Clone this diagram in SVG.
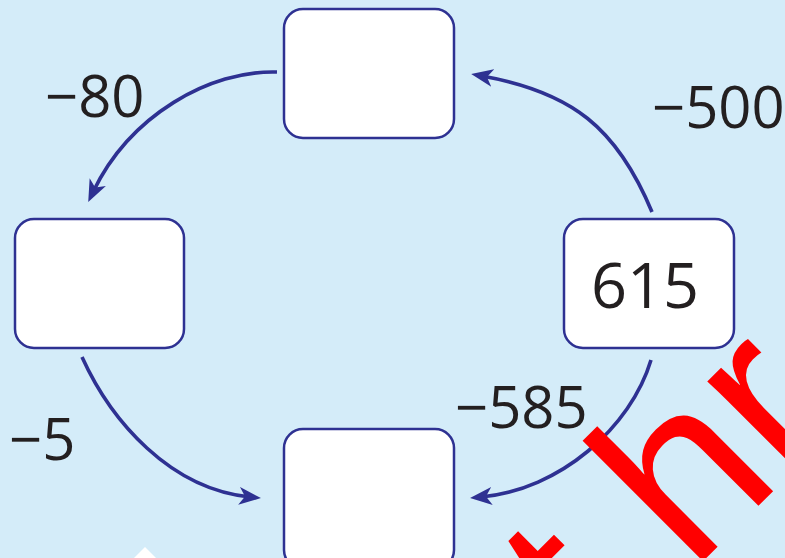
<svg xmlns="http://www.w3.org/2000/svg" width="785" height="558" viewBox="0 0 785 558">
  <defs>
    <style>
      .box { fill: #ffffff; stroke: #2e3192; stroke-width: 2.5; }
      .conn { fill: none; stroke: #2e3192; stroke-width: 3.6; marker-end: url(#arrow); }
      .lbl { font-family: "Open Sans", "DejaVu Sans", sans-serif; font-size: 58px; fill: #231f20; }
      .val { font-family: "Open Sans", "DejaVu Sans", sans-serif; font-size: 63px; fill: #231f20; text-anchor: middle; }
      .wm { font-family: "Liberation Sans", Arial, sans-serif; font-size: 235px; fill: #ff0000; }
    </style>
    <marker id="arrow" viewBox="0 0 22 18" refX="11" refY="9" markerWidth="22" markerHeight="18" markerUnits="userSpaceOnUse" orient="auto">
      <path d="M0,0 L22,9 L0,18 L6,9 Z" fill="#2e3192"/>
    </marker>
  </defs>
  <rect x="0" y="0" width="785" height="558" fill="#d4ecf9"/>

  <g id="connectors">
    <path class="conn" d="M277,72 C210,70 130,115 93,192"/>
    <path class="conn" d="M652,212 C617,128 572,92 482,76"/>
    <path class="conn" d="M82,357 C111,421 170,489 250,497"/>
    <path class="conn" d="M651,360 C631,427 560,490 481,497"/>
  </g>

  <g id="node-top">
    <rect class="box" x="284" y="9" width="170" height="129" rx="19"/>
  </g>
  <g id="node-left">
    <rect class="box" x="15" y="219" width="169" height="129" rx="19"/>
  </g>
  <g id="node-right">
    <rect class="box" x="564" y="219" width="170" height="129" rx="19"/>
    <text class="val" x="645" y="308">615</text>
  </g>
  <g id="node-bottom">
    <rect class="box" x="284" y="429" width="170" height="140" rx="19"/>
  </g>

  <g id="labels">
    <text class="lbl" x="45" y="117">−80</text>
    <text class="lbl" x="652" y="128">−500</text>
    <text class="lbl" x="455" y="428">−585</text>
    <text class="lbl" x="9" y="460">−5</text>
  </g>

  <polygon points="134,558 145,547 156,558" fill="#ffffff"/>
  <text class="wm" transform="rotate(-45)" y="894"><tspan x="-48">t</tspan><tspan x="84">hr</tspan></text>
</svg>
